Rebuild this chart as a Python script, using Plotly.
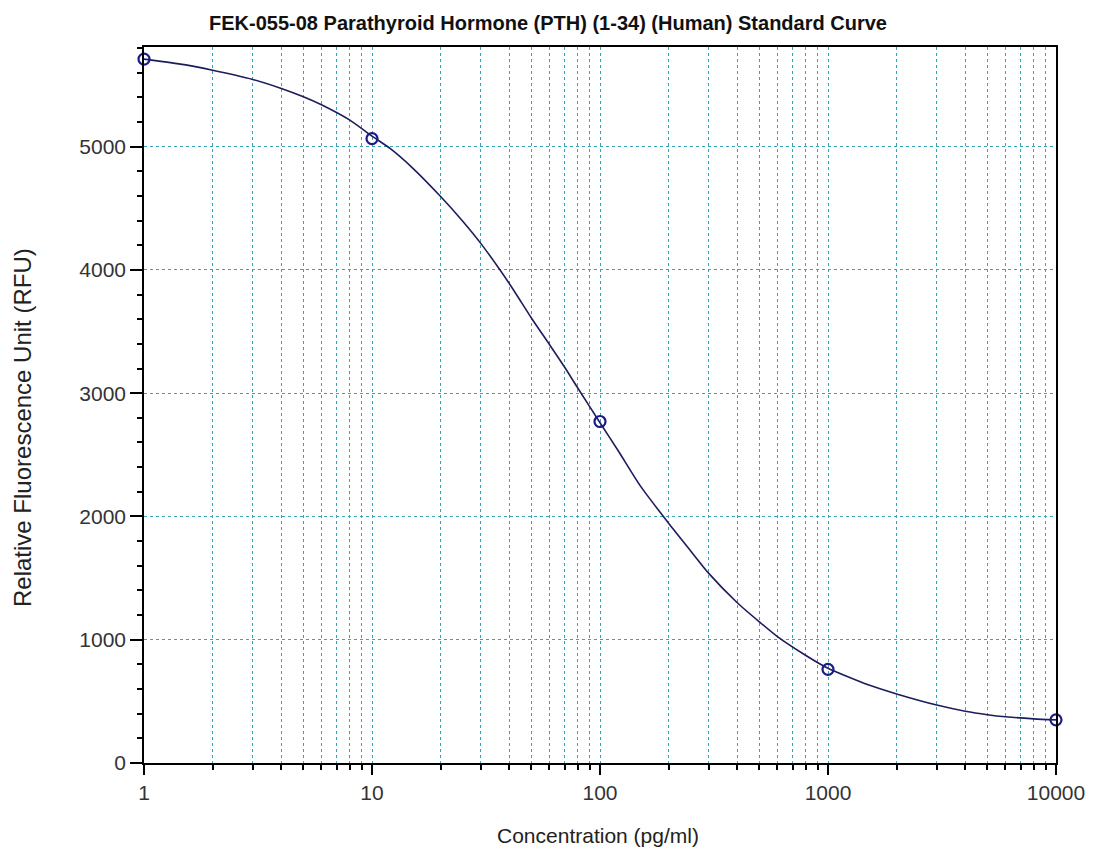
import plotly.graph_objects as go

# Standard points
conc = [1, 10, 100, 1000, 10000]
rfu = [5710, 5065, 2770, 760, 350]

# Fitted curve
curve_x = [1, 1.5, 2, 3, 4, 5, 6, 8, 10, 12, 15, 20, 25, 30, 40, 50, 60, 70, 80, 100,
           120, 150, 200, 250, 300, 400, 500, 600, 800, 1000, 1500, 2000, 3000, 4000,
           5000, 6000, 8000, 10000]
curve_y = [5710, 5665, 5620, 5545, 5472, 5405, 5340, 5215, 5085, 4985, 4830, 4595, 4395,
           4215, 3890, 3610, 3395, 3210, 3040, 2760, 2535, 2250, 1945, 1720, 1538, 1300,
           1145, 1025, 872, 768, 634, 560, 470, 420, 392, 375, 358, 350]

x_ticks = [1, 10, 100, 1000, 10000]
x_tick_labels = ["1", "10", "100", "1000", "10000"]
y_ticks = [0, 1000, 2000, 3000, 4000, 5000]

title = "FEK-055-08 Parathyroid Hormone (PTH) (1-34) (Human) Standard Curve"
x_title = "Concentration (pg/ml)"
y_title = "Relative Fluorescence Unit (RFU)"

grid_color = "#3aa3b5"
font_family = "Liberation Sans, Arial, sans-serif"
W, H = 1080, 846
L, R, T, B = 136, 32, 39, 91
PW, PH = W - L - R, H - T - B


def px_to_paper(px, py):
    # screenshot pixel (page has an 8px body margin) -> paper coordinates
    return (px - 8 - L) / PW, 1 - (py - 8 - T) / PH


fig = go.Figure()
fig.add_trace(go.Scatter(
    x=curve_x, y=curve_y, mode="lines",
    line=dict(color="#1c1c5e", width=1.6, shape="spline", smoothing=0.6),
    hoverinfo="skip", showlegend=False, cliponaxis=False,
))
fig.add_trace(go.Scatter(
    x=conc, y=rfu, mode="markers",
    marker=dict(symbol="circle-open", size=11, color="#1a1a8a", line=dict(width=2.2, color="#1a1a8a")),
    showlegend=False, cliponaxis=False,
))

yt_x, yt_y = px_to_paper(23, 428)
xt_x, xt_y = px_to_paper(598, 835)

fig.update_layout(
    width=W, height=H,
    margin=dict(l=L, r=R, t=T, b=B),
    paper_bgcolor="white", plot_bgcolor="white",
    font=dict(family=font_family, color="#222222"),
    title=dict(text="<b>" + title + "</b>", x=0.5, xanchor="center",
               y=1 - 15 / H, yref="container", yanchor="middle",
               font=dict(size=20, color="#111111", family=font_family)),
    annotations=[
        dict(text=y_title, xref="paper", yref="paper", x=yt_x, y=yt_y,
             xanchor="center", yanchor="middle", textangle=-90, showarrow=False,
             font=dict(size=24, color="#222222", family=font_family)),
        dict(text=x_title, xref="paper", yref="paper", x=xt_x, y=xt_y,
             xanchor="center", yanchor="middle", showarrow=False,
             font=dict(size=21, color="#222222", family=font_family)),
    ],
)

fig.update_xaxes(
    type="log", range=[0, 4], automargin=False,
    tickvals=x_ticks, ticktext=x_tick_labels,
    ticks="outside", ticklen=10, tickwidth=1.5, tickcolor="black",
    tickfont=dict(size=21, color="#333333"),
    showline=True, linecolor="black", linewidth=1.5, mirror=True,
    showgrid=True, gridcolor=grid_color, griddash="dot", gridwidth=1,
    minor=dict(dtick="D1", ticks="outside", ticklen=5, tickcolor="black",
               showgrid=True, gridcolor=grid_color, griddash="dot", gridwidth=1),
    zeroline=False,
)
fig.update_yaxes(
    range=[0, 5808], automargin=False,
    tickvals=y_ticks,
    ticks="outside", ticklen=12, tickwidth=1.5, tickcolor="black",
    tickfont=dict(size=21, color="#333333"),
    showline=True, linecolor="black", linewidth=1.5, mirror=True,
    showgrid=True, gridcolor=grid_color, griddash="dot", gridwidth=1,
    minor=dict(dtick=200, ticks="outside", ticklen=5, tickcolor="black", showgrid=False),
    zeroline=False,
)

fig.write_html("out.html")
